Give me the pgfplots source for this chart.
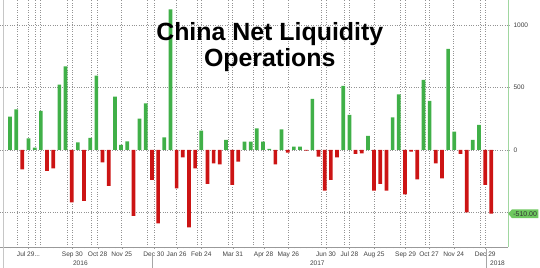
\documentclass[border=0pt]{standalone}
\usepackage{fontspec}
\setmainfont{Liberation Sans}
\usepackage{pgfplots}
\pgfplotsset{compat=1.18}
\usetikzlibrary{shapes.symbols}
\definecolor{bargreen}{RGB}{64,176,72}
\definecolor{barred}{RGB}{204,20,20}
\definecolor{axgreen}{RGB}{160,215,160}
\definecolor{boxgreen}{RGB}{110,200,95}
\newcommand{\dotsthree}{.\kern0pt.\kern0pt.}
\begin{document}
\begin{tikzpicture}
\useasboundingbox (0,-21bp) rectangle (540bp,247bp);
\begin{axis}[
  scale only axis, width=508bp, height=247bp,
  xmin=-1.62, xmax=80.7, ymin=-776, ymax=1200,
  clip=false,
  axis x line=bottom, axis y line=right,
  axis line style={-},
  x axis line style={draw=gray!80},
  y axis line style={draw=axgreen, line width=0.8pt},
  tick align=outside,
  xtick={3.0,10.1,14.2,18.1,23.3,27.0,31.0,36.1,41.1,45.1,51.2,55.0,59.0,64.1,67.9,71.9,77.0},
  xticklabels={{Jul 29\dotsthree},Sep 30,Oct 28,Nov 25,Dec 30,Jan 26,Feb 24,Mar 31,Apr 28,May 26,Jun 30,Jul 28,Aug 25,Sep 29,Oct 27,Nov 24,Dec 29},
  minor xtick={0,1,2,3,4,5,6,7,8,9,10,11,12,13,14,15,16,17,18,19,20,21,22,23,24,25,26,27,28,29,30,31,32,33,34,35,36,37,38,39,40,41,42,43,44,45,46,47,48,49,50,51,52,53,54,55,56,57,58,59,60,61,62,63,64,65,66,67,68,69,70,71,72,73,74,75,76,77,78},
  minor tick length=1.5pt,
  major tick length=2pt,
  x tick style={gray!80},
  xmajorgrids, ymajorgrids,
  major grid style={dotted, gray!85, line width=0.55pt},
  extra x ticks={1.13,4.05,4.86,9.24,13.1,22.2,30.3,35.3,39.4,50.4,54.1,63.2,67.3,76.2},
  extra x tick labels={},
  extra x tick style={grid=major, major tick length=0pt},
  ytick={-500,0,500,1000},
  yticklabels={,0,500,1000},
  y tick style={gray!70},
  /pgf/number format/assume math mode=true,
  tick label style={font=\fontsize{6.6}{8}\selectfont, text=black!75},
  xticklabel style={yshift=1pt},
]
\addplot[ybar, bar width=0.6, bar shift=0pt, fill=bargreen, draw=none] coordinates {
(0,267) (1,325) (3,93) (4,19) (5,312) (8,523) (9,669) (11,61) (13,96) (14,595)
(17,427) (18,40) (19,69) (21,251) (22,373) (25,101) (26,1125) (31,155) (35,80)
(38,67) (39,67) (40,173) (41,67) (42,8) (44,165) (46,27) (47,27) (49,408)
(54,512) (55,280) (58,112) (62,261) (63,445) (67,560) (68,392) (71,808)
(72,147) (75,80) (76,200)
};
\addplot[ybar, bar width=0.6, bar shift=0pt, fill=barred, draw=none] coordinates {
(2,-155) (6,-168) (7,-147) (10,-419) (12,-408) (15,-99) (16,-288) (20,-528)
(23,-240) (24,-587) (27,-307) (28,-59) (29,-619) (30,-147) (32,-272) (33,-107)
(34,-115) (36,-280) (37,-93) (43,-115) (45,-21) (48,-5) (50,-53) (51,-325)
(52,-240) (53,-59) (56,-32) (57,-27) (59,-325) (60,-272) (61,-325) (64,-355)
(65,-13) (66,-235) (69,-107) (70,-227) (73,-32) (74,-499) (77,-280) (78,-510)
};
\node[font=\bfseries\fontsize{25}{28}\selectfont, anchor=base] at (rel axis cs:0.531,0.838) {China Net Liquidity};
\node[font=\bfseries\fontsize{25}{28}\selectfont, anchor=base] at (rel axis cs:0.531,0.729) {Operations};
\node[signal, signal to=west, signal pointer angle=100, fill=boxgreen, draw=none,
      font=\fontsize{7}{8}\selectfont, text=black!80, inner xsep=1.5pt, inner ysep=1.8pt, anchor=west]
      at (axis cs:80.7,-510) {-510.00};
\node[font=\fontsize{6.6}{8}\selectfont, text=black!75] at ([yshift=-16bp]axis cs:11.4,-776) {2016};
\node[font=\fontsize{6.6}{8}\selectfont, text=black!75] at ([yshift=-16bp]axis cs:49.8,-776) {2017};
\node[font=\fontsize{6.6}{8}\selectfont, text=black!75] at ([yshift=-16bp]axis cs:79.0,-776) {2018};
\draw[gray!70] ([yshift=-8bp]axis cs:23.0,-776) -- ([yshift=-21bp]axis cs:23.0,-776);
\draw[gray!70] ([yshift=-2bp]axis cs:77.2,-776) -- ([yshift=-21bp]axis cs:77.2,-776);
\draw[gray!45] ([yshift=-21bp]axis cs:-1.13,-776) -- (axis cs:-1.13,1200);
\end{axis}
\end{tikzpicture}
\end{document}
